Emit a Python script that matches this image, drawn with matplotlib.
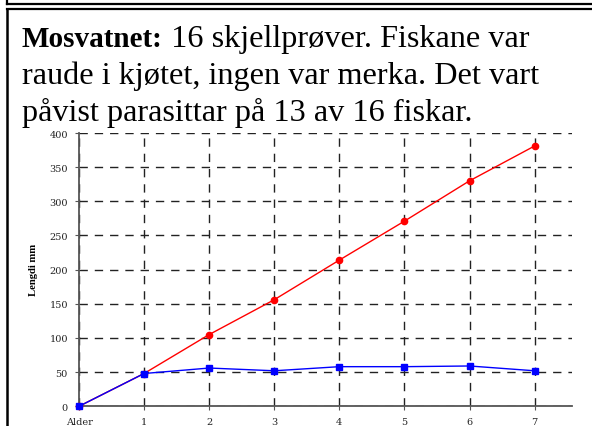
import matplotlib
matplotlib.use("Agg")
import matplotlib.pyplot as plt
from matplotlib.lines import Line2D

# data
alder = [0, 1, 2, 3, 4, 5, 6, 7]
tick_labels = ["Alder", "1", "2", "3", "4", "5", "6", "7"]
lengd_rek = [0, 48, 105, 156, 214, 271, 330, 381]
lengd_maalt = [0, 48, 56, 52, 58, 58, 59, 52]
y_ticks = [0, 50, 100, 150, 200, 250, 300, 350, 400]

title_bold = "Mosvatnet:"
title_lines = [" 16 skjellprøver. Fiskane var",
               "raude i kjøtet, ingen var merka. Det vart",
               "påvist parasittar på 13 av 16 fiskar."]

W, H = 592, 427
plt.rcParams['font.family'] = ['Liberation Serif', 'DejaVu Serif']

fig = plt.figure(figsize=(W / 100, H / 100), dpi=100)

def fx(px):
    return px / W

def fy(py):
    return 1 - py / H

# box borders
fig.add_artist(Line2D([fx(6.5), fx(W)], [fy(4.8), fy(4.8)], color='black', lw=1.6))
fig.add_artist(Line2D([fx(6.8), fx(6.8)], [fy(0), fy(4.8)], color='black', lw=1.6))
fig.add_artist(Line2D([fx(6.5), fx(W)], [fy(9.8), fy(9.8)], color='black', lw=1.6))
fig.add_artist(Line2D([fx(7.3), fx(7.3)], [fy(9.8), fy(H)], color='black', lw=1.8))
fig.text(fx(415), fy(3.5), "...", fontsize=5, ha='center', va='baseline')

# heading text
fs = 23.2
t0 = fig.text(fx(22), fy(47), title_bold, fontsize=21, fontweight='bold', va='baseline')
fig.canvas.draw()
bb = t0.get_window_extent(fig.canvas.get_renderer())
fig.text(bb.x1 / W, fy(47), title_lines[0], fontsize=fs, va='baseline')
fig.text(fx(22), fy(84), title_lines[1], fontsize=fs, va='baseline')
fig.text(fx(22), fy(121), title_lines[2], fontsize=fs, va='baseline')

# chart
ax = fig.add_axes([fx(79), fy(407.3), fx(571.7 - 79), (407.3 - 134) / H])
ax.set_xlim(0, 7.57)
ax.set_ylim(0, 400)

ax.plot(alder, lengd_rek, color='red', lw=1, marker='o', ms=4.5, zorder=3, clip_on=False)
ax.plot(alder, lengd_maalt, color='blue', lw=1, marker='s', ms=5, zorder=4, clip_on=False)

ax.set_xticks(alder)
ax.set_xticklabels(tick_labels)
ax.set_yticks(y_ticks)
ax.grid(True, color='#222222', ls=(0, (6, 5)), lw=1)
ax.set_axisbelow(True)
ax.tick_params(length=3, width=0.8, color='#555555', pad=5)
for lab in ax.get_xticklabels() + ax.get_yticklabels():
    lab.set_fontfamily('DejaVu Serif')
    lab.set_fontsize(7)
    lab.set_color('#222222')

for s in ['top', 'right']:
    ax.spines[s].set_visible(False)
for s in ['left', 'bottom']:
    ax.spines[s].set_color('#555555')
    ax.spines[s].set_linewidth(1.3)

fig.text(fx(33), fy(270), "Lengdi mm", fontsize=7.7, fontweight='bold',
         rotation=90, ha='center', va='center')

fig.savefig("out.png", dpi=100)
